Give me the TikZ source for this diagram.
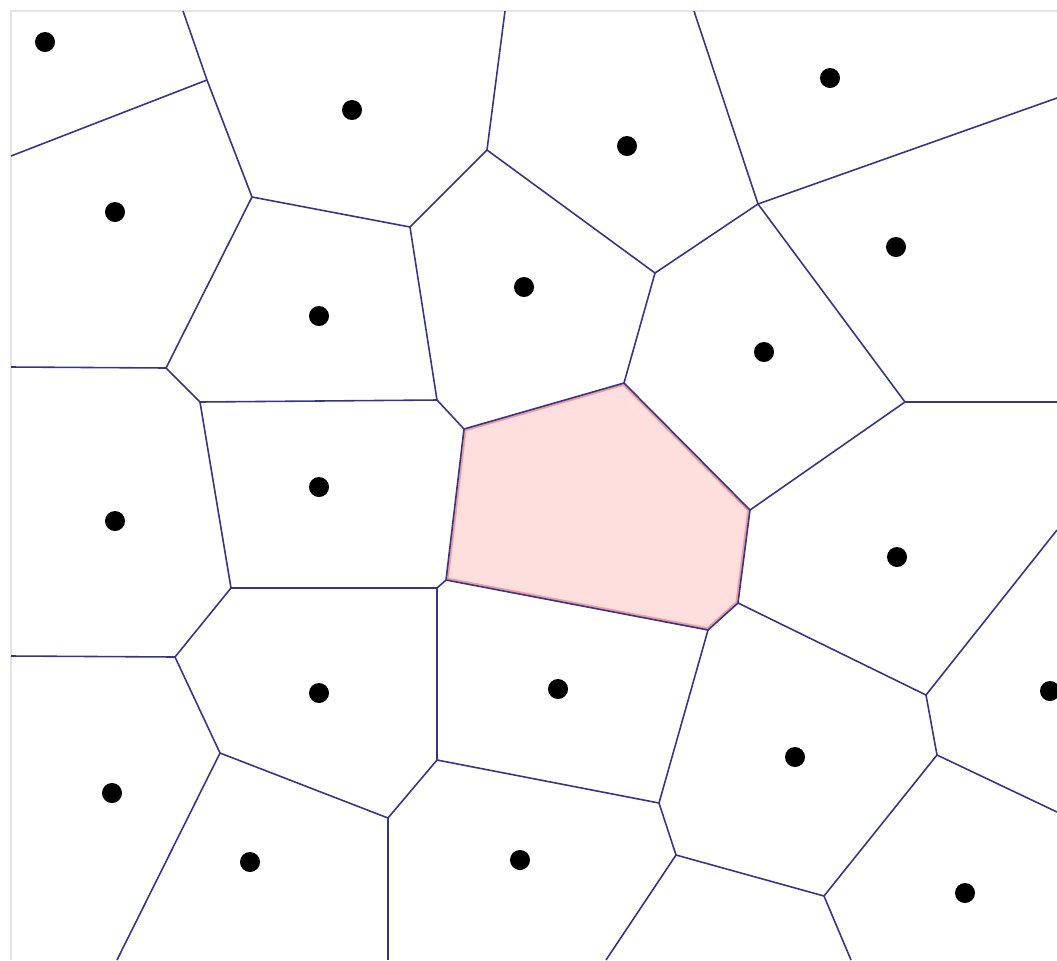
\documentclass[tikz,border=0pt]{standalone}
\definecolor{edgeblue}{HTML}{34348F}
\definecolor{holefill}{HTML}{FFDEDE}
\definecolor{holeline}{HTML}{EE9E9E}
\definecolor{framegray}{HTML}{E4E4E4}

\begin{document}
\begin{tikzpicture}[
    x=0.01cm, y=-0.01cm,
    edge/.style={draw=edgeblue, line width=0.45pt, line join=round},
    site/.style={circle, fill=black, inner sep=0pt, minimum size=0.2cm},
    hole/.style={fill=holefill},
    holerim/.style={draw=holeline, line width=1.5pt, line join=round},
    frame/.style={draw=framegray, line width=0.5pt},
  ]
    \useasboundingbox (0,0) rectangle (1057,960);
    \clip (0,0) rectangle (1057,960);
    \draw[frame] (11,960) -- (11,11) -- (1057,11);
    % --- border ends -------------------------------------------------------
    \coordinate (t1) at (183,11);
    \coordinate (t2) at (505,11);
    \coordinate (t3) at (694,11);
    \coordinate (l1) at (11,156);
    \coordinate (l2) at (11,367);
    \coordinate (l3) at (11,656);
    \coordinate (r1) at (1057,98);
    \coordinate (r2) at (1057,402);
    \coordinate (r3) at (1057,530);
    \coordinate (r4) at (1057,812);
    \coordinate (b1) at (851,960);
    \coordinate (b2) at (606,960);
    \coordinate (b3) at (388,960);
    \coordinate (b4) at (117,960);
    % --- voronoi vertices --------------------------------------------------
    \coordinate (v1)  at (207,80);
    \coordinate (v2)  at (252,197);
    \coordinate (v3)  at (410,227);
    \coordinate (v4)  at (166,368);
    \coordinate (v5)  at (200,402);
    \coordinate (v6)  at (437,400);
    \coordinate (v7)  at (487,150);
    \coordinate (v8)  at (464,429);
    \coordinate (v9)  at (758,204);
    \coordinate (v10) at (655,273);
    \coordinate (v11) at (624,383);
    \coordinate (v12) at (905,402);
    \coordinate (v13) at (750,510);
    \coordinate (v14) at (738,603);
    \coordinate (v15) at (708,630);
    \coordinate (v16) at (926,695);
    \coordinate (v17) at (937,755);
    \coordinate (v18) at (824,896);
    \coordinate (v19) at (659,803);
    \coordinate (v20) at (676,855);
    \coordinate (v21) at (437,760);
    \coordinate (v22) at (388,818);
    \coordinate (v23) at (220,753);
    \coordinate (v24) at (175,657);
    \coordinate (v25) at (231,588);
    \coordinate (v26) at (437,588);
    \coordinate (v27) at (446,580);
    % --- empty cell --------------------------------------------------------
    \fill[hole] (v8) -- (v11) -- (v13) -- (v14) -- (v15) -- (v27) -- cycle;
    \begin{scope}
      \clip (v8) -- (v11) -- (v13) -- (v14) -- (v15) -- (v27) -- cycle;
      \draw[holerim] (v8) -- (v11) -- (v13) -- (v14) -- (v15) -- (v27) -- cycle;
    \end{scope}
    % --- edges -------------------------------------------------------------
    \draw[edge] (t1) -- (v1);   \draw[edge] (v1) -- (l1);
    \draw[edge] (v1) -- (v2);   \draw[edge] (v2) -- (v3);
    \draw[edge] (v2) -- (v4);   \draw[edge] (v4) -- (l2);
    \draw[edge] (v4) -- (v5);   \draw[edge] (v5) -- (v6);
    \draw[edge] (v3) -- (v6);   \draw[edge] (v3) -- (v7);
    \draw[edge] (v7) -- (t2);   \draw[edge] (v7) -- (v10);
    \draw[edge] (v6) -- (v8);   \draw[edge] (v8) -- (v11);
    \draw[edge] (t3) -- (v9);   \draw[edge] (v9) -- (r1);
    \draw[edge] (v9) -- (v10);  \draw[edge] (v10) -- (v11);
    \draw[edge] (v9) -- (v12);  \draw[edge] (v12) -- (r2);
    \draw[edge] (v12) -- (v13); \draw[edge] (v11) -- (v13);
    \draw[edge] (v13) -- (v14); \draw[edge] (v14) -- (v15);
    \draw[edge] (v15) -- (v27); \draw[edge] (v27) -- (v8);
    \draw[edge] (v14) -- (v16); \draw[edge] (v16) -- (r3);
    \draw[edge] (v16) -- (v17); \draw[edge] (v17) -- (r4);
    \draw[edge] (v17) -- (v18); \draw[edge] (v18) -- (v20);
    \draw[edge] (v18) -- (b1);  \draw[edge] (v15) -- (v19);
    \draw[edge] (v19) -- (v20); \draw[edge] (v20) -- (b2);
    \draw[edge] (v19) -- (v21); \draw[edge] (v21) -- (v26);
    \draw[edge] (v26) -- (v27); \draw[edge] (v26) -- (v25);
    \draw[edge] (v25) -- (v5);  \draw[edge] (v25) -- (v24);
    \draw[edge] (v24) -- (l3);  \draw[edge] (v24) -- (v23);
    \draw[edge] (v23) -- (v22); \draw[edge] (v23) -- (b4);
    \draw[edge] (v22) -- (v21); \draw[edge] (v22) -- (b3);
    % --- sites -------------------------------------------------------------
    \node[site] (s1)  at (45,42)   {};
    \node[site] (s2)  at (352,110) {};
    \node[site] (s3)  at (627,146) {};
    \node[site] (s4)  at (830,78)  {};
    \node[site] (s5)  at (115,212) {};
    \node[site] (s6)  at (319,316) {};
    \node[site] (s7)  at (524,287) {};
    \node[site] (s8)  at (896,247) {};
    \node[site] (s9)  at (764,352) {};
    \node[site] (s10) at (115,521) {};
    \node[site] (s11) at (319,487) {};
    \node[site] (s12) at (897,557) {};
    \node[site] (s13) at (558,689) {};
    \node[site] (s14) at (1050,691) {};
    \node[site] (s15) at (795,757) {};
    \node[site] (s16) at (965,893) {};
    \node[site] (s17) at (319,693) {};
    \node[site] (s18) at (112,793) {};
    \node[site] (s19) at (250,862) {};
    \node[site] (s20) at (520,860) {};
  \end{tikzpicture}
\end{document}
